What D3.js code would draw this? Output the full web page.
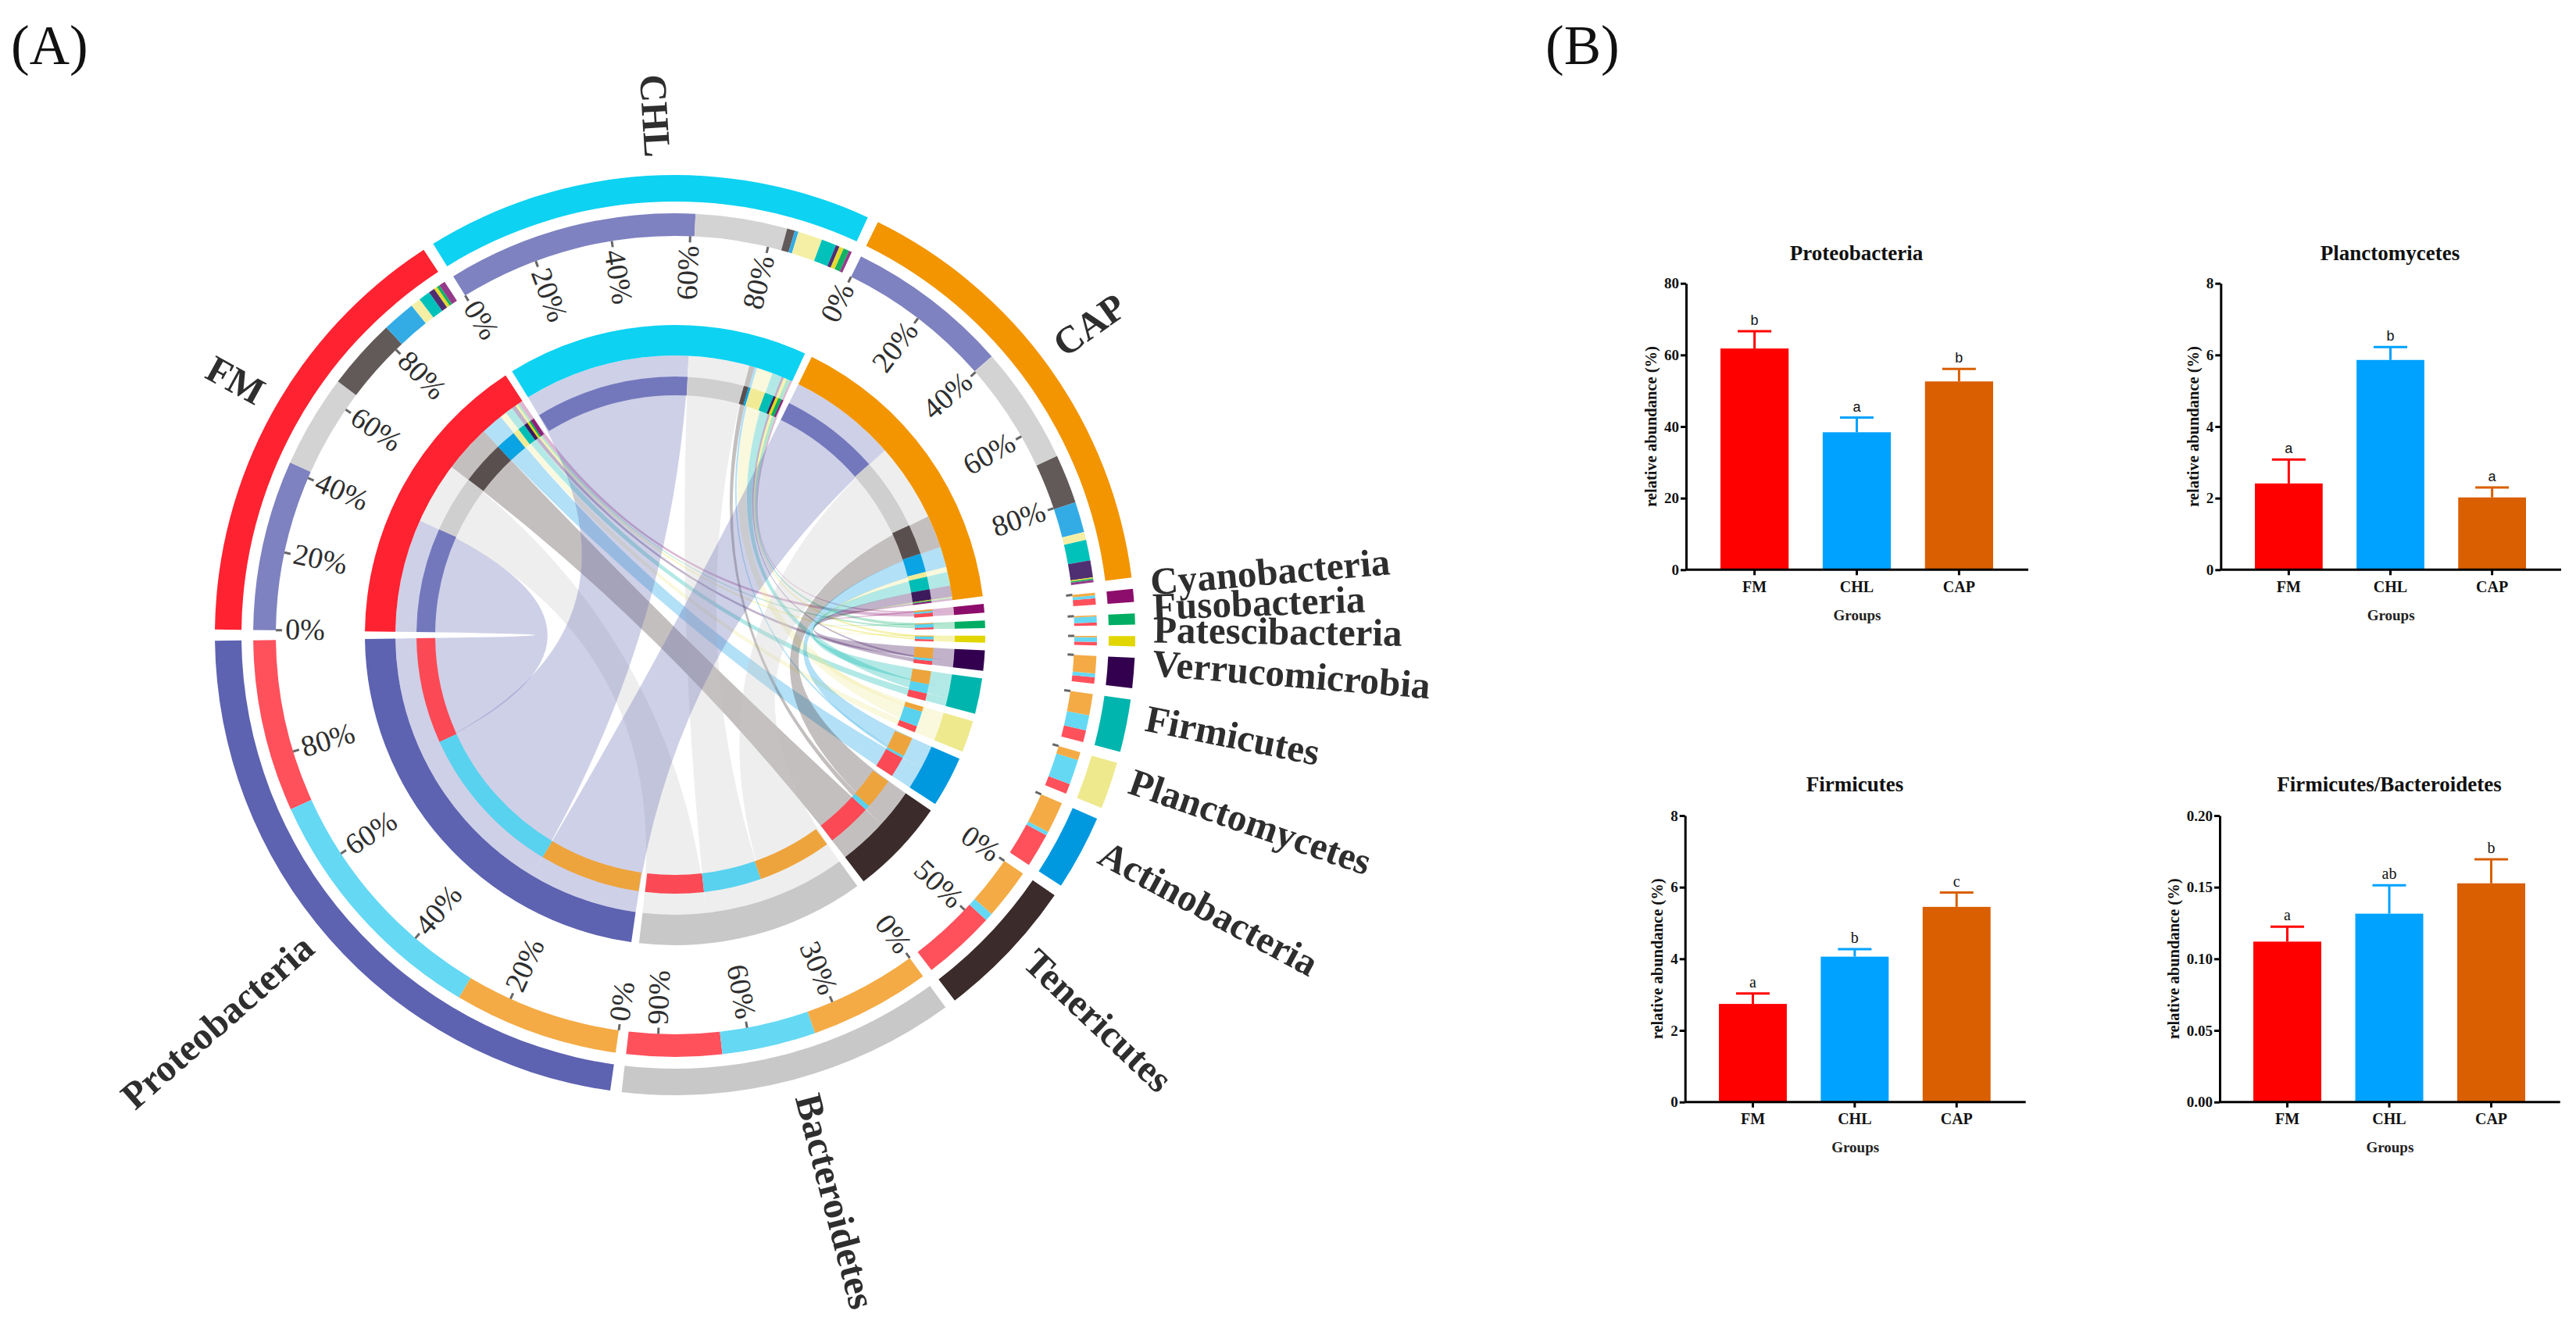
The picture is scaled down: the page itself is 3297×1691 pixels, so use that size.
<!DOCTYPE html>
<html><head><meta charset="utf-8">
<script src="https://cdn.jsdelivr.net/npm/d3@7/dist/d3.min.js"></script>
<style>
html,body{margin:0;padding:0;background:#fff;}
svg{display:block;}
text{font-family:"Liberation Serif",serif;}
</style></head><body>
<svg id="c" width="3297" height="1691" viewBox="0 0 3297 1691"></svg>
<script>
// ---------- data: chord panel ----------
const treatments = ["FM","CHL","CAP"];
const phyla = ["Proteobacteria","Bacteroidetes","Tenericutes","Actinobacteria","Planctomycetes","Firmicutes","Verrucomicrobia","Patescibacteria","Fusobacteria","Cyanobacteria"];
const fmShare  = [41.2,22.5,17.3,8.0,2.4,2.8,1.5,0.8,0.7,1.5];
const chlShare = [60.6,22.2,1.9,0.9,5.9,3.6,0.9,1.1,1.4,0.7];
const capShare = [39.5,28.5,11.9,7.4,1.9,5.0,4.1,0.3,0.3,0.6];
const tickStep = {FM:20,CHL:20,CAP:20,Proteobacteria:20,Bacteroidetes:30,Tenericutes:50};
// ---------- data: bar panels ----------
const barGroups = ["FM","CHL","CAP"];
const barTitles = ["Proteobacteria","Planctomycetes","Firmicutes","Firmicutes/Bacteroidetes"];
const barMeans = [[61.8,38.4,52.6],[2.41,5.86,2.02],[2.74,4.06,5.45],[0.112,0.1315,0.1527]];
const barTops  = [[66.6,42.5,56.1],[3.08,6.22,2.30],[3.03,4.27,5.85],[0.1224,0.1513,0.1695]];
const barLetters = [["b","a","b"],["a","b","a"],["a","b","c"],["a","ab","b"]];
const barMax = [80,8,8,0.2];
const barTicks = [[0,20,40,60,80],[0,2,4,6,8],[0,2,4,6,8],[0,0.05,0.10,0.15,0.20]];
// ---------- styles ----------
const bandColor = {FM:"#ff2231",CHL:"#0dd2f2",CAP:"#f29500",Proteobacteria:"#5d62b1",Bacteroidetes:"#c8c8c8",Tenericutes:"#3b2b2b",Actinobacteria:"#0099e0",Planctomycetes:"#efe98e",Firmicutes:"#00b5ad",Verrucomicrobia:"#32004f",Patescibacteria:"#e2d600",Fusobacteria:"#00ad62",Cyanobacteria:"#8c0d6c"};
const outerTrack = {FM:"#ff515c",CHL:"#65d8f4",CAP:"#f4ab45",Proteobacteria:"#7e82c0",Bacteroidetes:"#d3d3d3",Tenericutes:"#625a59",Actinobacteria:"#33ace6",Planctomycetes:"#f5efa5",Firmicutes:"#00c2bb",Verrucomicrobia:"#4f2f72",Patescibacteria:"#e4da30",Fusobacteria:"#10b266",Cyanobacteria:"#953a8a"};
const innerTrack = {FM:"#fb4a55",CHL:"#58d2ef",CAP:"#eea43c",Proteobacteria:"#7378bd",Bacteroidetes:"#cfcfcf",Tenericutes:"#5a4f4f",Actinobacteria:"#0aa3e3",Planctomycetes:"#f1eb96",Firmicutes:"#00bdb5",Verrucomicrobia:"#3c1a5c",Patescibacteria:"#e3d818",Fusobacteria:"#05ae63",Cyanobacteria:"#8d2079"};
const barColor = {FM:"#ff0000",CHL:"#00a2ff",CAP:"#d95f00"};
const inkTick = "#666", inkText = "#2e2e2e";
const C = {x:864,y:813}, R = {bandOut:589,bandIn:555,trackOut:540,trackIn:511,hubBandOut:397,hubBandIn:358,hubTrackOut:331,hubTrackIn:307,tickEnd:503,tickText:499,label:612};
const gapUnits = 2.45;
const breakDeg = [-89.3,82.8,144,188.1,270.7];
const barPanels = [
 {ax:2158,xEnd:2596,y0:729.3,yT:362.7,bar0:2202,bar1:2551,titleX:2376,titleY:333,yTitleX:2113,labelY:757.7,groupsY:794,sans:true},
 {ax:2842.3,xEnd:3278,y0:729.3,yT:362.7,bar0:2886,bar1:3233,titleX:3059,titleY:333,yTitleX:2807,labelY:757.7,groupsY:794,sans:true},
 {ax:2156.7,xEnd:2592.7,y0:1410.7,yT:1044,bar0:2200,bar1:2547.7,titleX:2374,titleY:1013,yTitleX:2121,labelY:1439,groupsY:1475,sans:false},
 {ax:2841,xEnd:3276.7,y0:1410.7,yT:1044,bar0:2884,bar1:3232,titleX:3058,titleY:1013,yTitleX:2782,labelY:1439,groupsY:1475,sans:false}
];

const svg = d3.select("#c");
svg.append("text").attr("x",14).attr("y",82).attr("font-size",71).attr("fill","#111").text("(A)");
svg.append("text").attr("x",1978).attr("y",82).attr("font-size",71).attr("fill","#111").text("(B)");

// ---------- chord layout ----------
const shares = [fmShare,chlShare,capShare];
const clockwisePhyla = ["Cyanobacteria","Fusobacteria","Patescibacteria","Verrucomicrobia","Firmicutes","Planctomycetes","Actinobacteria","Tenericutes","Bacteroidetes","Proteobacteria"];
const sectorNames = treatments.concat(clockwisePhyla);
const totalOf = n => treatments.includes(n)
   ? d3.sum(shares[treatments.indexOf(n)])
   : d3.sum(shares,s=>s[phyla.indexOf(n)]);
let cursor = 0;
const sectors = sectorNames.map(n=>{const t=totalOf(n);const s={name:n,u0:cursor,u1:cursor+t,total:t};cursor+=t+gapUnits;return s;});
const sec = Object.fromEntries(sectors.map(s=>[s.name,s]));
const angle = d3.scaleLinear().domain([0,sec.CAP.u1,sec.Bacteroidetes.u0,sec.Proteobacteria.u0,cursor]).range(breakDeg.map(d=>d*Math.PI/180));
// treatment segments run in 'phyla' order; phylum segments run CAP, CHL, FM clockwise
const links=[];
treatments.forEach((t,ti)=>{
  let c=sec[t].u0;
  phyla.forEach((p,pi)=>{const v=shares[ti][pi];links.push({t,p,v,t0:c,t1:c+v});c+=v;});
});
phyla.forEach(p=>{
  let c=sec[p].u0;
  ["CAP","CHL","FM"].forEach(t=>{const l=links.find(k=>k.t===t&&k.p===p);l.p0=c;l.p1=c+l.v;c+=l.v;});
});
const g = svg.append("g").attr("transform",`translate(${C.x},${C.y})`);
const ribbon = d3.ribbon().radius(R.hubBandIn);
g.append("g").selectAll("path").data(links).join("path")
 .attr("d",l=>ribbon({source:{startAngle:angle(l.t0),endAngle:angle(l.t1)},target:{startAngle:angle(l.p0),endAngle:angle(l.p1)}}))
 .attr("fill",l=>bandColor[l.p]).attr("fill-opacity",0.3);
const arc = d3.arc();
function ring(data,r0,r1,a0,a1,fill){
  g.append("g").selectAll("path").data(data).join("path")
   .attr("d",d=>arc({innerRadius:r0,outerRadius:r1,startAngle:angle(a0(d)),endAngle:angle(a1(d))}))
   .attr("fill",fill);
}
ring(sectors,R.bandIn,R.bandOut,d=>d.u0,d=>d.u1,d=>bandColor[d.name]);
ring(sectors,R.hubBandIn,R.hubBandOut,d=>d.u0,d=>d.u1,d=>bandColor[d.name]);
const segs = links.map(l=>({u0:l.t0,u1:l.t1,n:l.p})).concat(links.map(l=>({u0:l.p0,u1:l.p1,n:l.t})));
ring(segs,R.trackIn,R.trackOut,d=>d.u0,d=>d.u1,d=>outerTrack[d.n]);
ring(segs,R.hubTrackIn,R.hubTrackOut,d=>d.u0,d=>d.u1,d=>innerTrack[d.n]);
// percentage ticks
const ticks=[];
sectors.forEach(s=>{
  const step=tickStep[s.name];
  if(step){for(let p=0;p<100;p+=step)ticks.push({p,a:angle(s.u0+s.total*p/100),label:true});}
  else ticks.push({p:0,a:angle(s.u0),label:false});
});
const polar=(a,r)=>[r*Math.sin(a),-r*Math.cos(a)];
g.append("g").selectAll("line").data(ticks).join("line")
 .attr("x1",d=>polar(d.a,R.trackIn)[0]).attr("y1",d=>polar(d.a,R.trackIn)[1])
 .attr("x2",d=>polar(d.a,R.tickEnd)[0]).attr("y2",d=>polar(d.a,R.tickEnd)[1])
 .attr("stroke",inkTick).attr("stroke-width",3);
const deg=a=>a*180/Math.PI;
const rightSide=a=>{const t=((deg(a)%360)+360)%360;return t>0&&t<180;};
g.append("g").selectAll("text").data(ticks.filter(t=>t.label)).join("text")
 .attr("transform",d=>{const [x,y]=polar(d.a,R.tickText);return `translate(${x},${y}) rotate(${rightSide(d.a)?deg(d.a)-90:deg(d.a)+90})`;})
 .attr("text-anchor",d=>rightSide(d.a)?"end":"start").attr("dy","0.3em")
 .attr("font-size",38).attr("fill",inkText).text(d=>d.p+"%");
// group names read outward on the right half and inward on the left
g.append("g").selectAll("text").data(sectors.map(s=>({a:angle((s.u0+s.u1)/2),name:s.name}))).join("text")
 .attr("transform",d=>{const right=rightSide(d.a),[x,y]=polar(d.a,R.label);return `translate(${x},${y}) rotate(${right?deg(d.a)-90:deg(d.a)+90})`;})
 .attr("text-anchor",d=>rightSide(d.a)?"start":"end").attr("dy","0.03em")
 .attr("font-size",49).attr("font-weight","bold").attr("fill",inkText).text(d=>d.name);

// ---------- bar panels ----------
barPanels.forEach((P,i)=>{
  const x=d3.scaleBand().domain(barGroups).range([P.bar0,P.bar1]).paddingInner(1/3).paddingOuter(0);
  const y=d3.scaleLinear().domain([0,barMax[i]]).range([P.y0,P.yT]);
  const k=svg.append("g");
  const rows=barGroups.map((n,j)=>({n,m:barMeans[i][j],t:barTops[i][j],l:barLetters[i][j]}));
  k.selectAll("rect").data(rows).join("rect")
   .attr("x",d=>x(d.n)).attr("width",x.bandwidth()).attr("y",d=>y(d.m)).attr("height",d=>y(0)-y(d.m)).attr("fill",d=>barColor[d.n]);
  const cx=d=>x(d.n)+x.bandwidth()/2;
  k.selectAll(".stem").data(rows).join("line").attr("class","stem").attr("x1",cx).attr("x2",cx).attr("y1",d=>y(d.m)).attr("y2",d=>y(d.t)).attr("stroke",d=>barColor[d.n]).attr("stroke-width",3);
  k.selectAll(".cap").data(rows).join("line").attr("class","cap").attr("x1",d=>cx(d)-21.5).attr("x2",d=>cx(d)+21.5).attr("y1",d=>y(d.t)).attr("y2",d=>y(d.t)).attr("stroke",d=>barColor[d.n]).attr("stroke-width",3);
  k.selectAll(".let").data(rows).join("text").attr("class","let").attr("x",cx).attr("y",d=>y(d.t)-8).attr("text-anchor","middle").attr("fill","#111")
   .attr("font-size",P.sans?18:20).style("font-family",P.sans?'"Liberation Sans",sans-serif':null).text(d=>d.l);
  const fmt=barMax[i]<1?d3.format(".2f"):d3.format("d");
  const ya=k.append("g").attr("transform",`translate(${P.ax},0)`).call(d3.axisLeft(y).tickValues(barTicks[i]).tickFormat(fmt).tickSize(7).tickSizeOuter(0));
  ya.selectAll("text").attr("font-size",19).attr("font-weight","bold").attr("fill","#111").style("font-family",'"Liberation Serif",serif').attr("x",-9);
  const xa=k.append("g").attr("transform",`translate(0,${P.y0})`).call(d3.axisBottom(x).tickSize(7).tickSizeOuter(0));
  xa.selectAll("text").attr("font-size",20).attr("font-weight","bold").attr("fill","#111").style("font-family",'"Liberation Serif",serif').attr("y",null).attr("dy",null)
    .attr("transform",`translate(0,${P.labelY-P.y0})`);
  xa.select(".domain").attr("d",`M${P.ax},0H${P.xEnd}`);
  [ya,xa].forEach(a=>{a.selectAll(".domain,line").attr("stroke","#000").attr("stroke-width",3);});
  k.append("text").attr("x",P.titleX).attr("y",P.titleY).attr("text-anchor","middle").attr("font-size",27).attr("font-weight","bold").attr("fill","#111").text(barTitles[i]);
  k.append("text").attr("x",(P.ax+P.xEnd)/2).attr("y",P.groupsY).attr("text-anchor","middle").attr("font-size",19).attr("font-weight","bold").attr("fill","#222").text("Groups");
  k.append("text").attr("transform",`translate(${P.yTitleX},${(P.y0+P.yT)/2}) rotate(-90)`).attr("dy","0.35em").attr("text-anchor","middle").attr("font-size",20.5).attr("font-weight","bold").attr("fill","#111").text("relative abundance (%)");
});
</script></body></html>
